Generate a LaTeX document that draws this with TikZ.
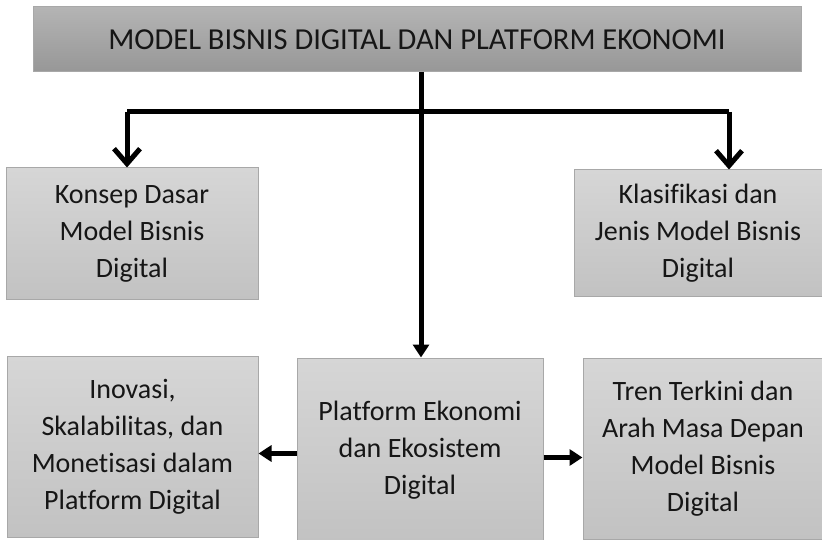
\documentclass[tikz,border=0pt]{standalone}
\usepackage{fontspec}
\setmainfont{Carlito}[Ligatures=NoCommon]
\usetikzlibrary{arrows.meta}
\definecolor{titletop}{HTML}{B4B4B4}
\definecolor{titlebot}{HTML}{979797}
\definecolor{boxtop}{HTML}{D6D6D6}
\definecolor{boxbot}{HTML}{C2C2C2}
\definecolor{boxedge}{HTML}{A8A8A8}
\definecolor{txt}{HTML}{161616}
\tikzset{
  titlebox/.style={draw=boxedge, line width=1pt, top color=titletop, bottom color=titlebot,
    inner sep=0pt, text=txt, font=\fontsize{30.5}{36}\selectfont},
  topicbox/.style={draw=boxedge, line width=1pt, top color=boxtop, bottom color=boxbot,
    inner sep=0pt, align=center, text=txt, font=\fontsize{28}{37}\selectfont},
  link/.style={line width=5pt, draw=black},
  barb/.style={link, -{Straight Barb[length=15pt,width=26pt]}},
  solid arrow/.style={link, -{Triangle[length=13pt,width=16pt]}}
}
\begin{document}
\begin{tikzpicture}[x=1pt,y=-1pt]
\useasboundingbox (0,0) rectangle (822,540);
\node[titlebox, minimum width=768pt, minimum height=65pt] (title) at (417,39.5)
  {MODEL BISNIS DIGITAL DAN PLATFORM EKONOMI};
\node[topicbox, minimum width=252pt, minimum height=131pt] (konsep) at (132,233.5)
  {Konsep Dasar\\Model Bisnis\\Digital};
\node[topicbox, minimum width=248pt, minimum height=126pt] (klas) at (698,233)
  {Klasifikasi dan\\Jenis Model Bisnis\\Digital};
\node[topicbox, minimum width=251pt, minimum height=181pt] (inov) at (132.5,446.5)
  {Inovasi,\\Skalabilitas, dan\\Monetisasi dalam\\Platform Digital};
\node[topicbox, minimum width=246pt, minimum height=184pt] (plat) at (420,450)
  {Platform Ekonomi\\dan Ekosistem\\Digital};
\node[topicbox, minimum width=240pt, minimum height=181pt] (tren) at (703,448.5)
  {Tren Terkini dan\\Arah Masa Depan\\Model Bisnis\\Digital};
\coordinate (barL) at (127,112);
\coordinate (barR) at (729,112);
\coordinate (stem) at (421,72);
\draw[link] (barL) -- (barR);
\draw[barb] (barL) -- (barL |- konsep.north);
\draw[barb] (barR) -- (barR |- klas.north);
\draw[solid arrow] (stem) -- (stem |- plat.north);
\draw[solid arrow] ([yshift=-3.5pt]plat.west) -- ([yshift=-3.5pt]plat.west -| inov.east);
\draw[solid arrow] ([yshift=-7.5pt]plat.east) -- ([yshift=-7.5pt]plat.east -| tren.west);
\end{tikzpicture}
\end{document}
